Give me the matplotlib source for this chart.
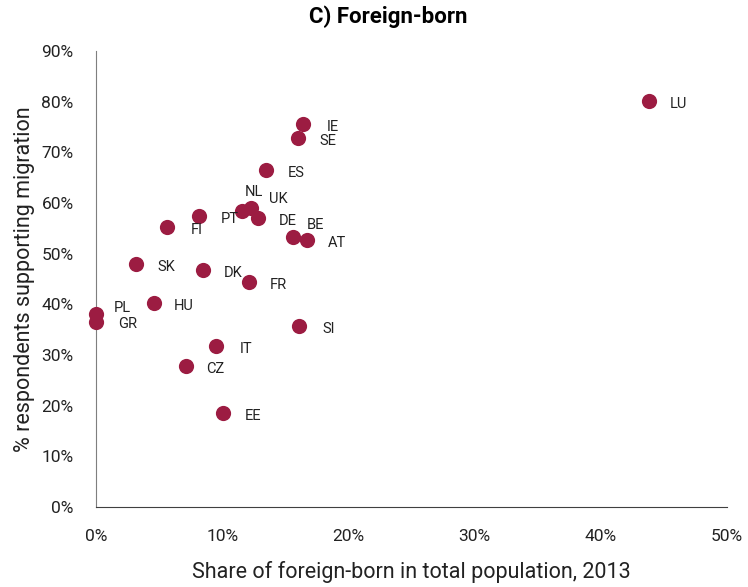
import matplotlib as mpl
mpl.use('Agg')
import matplotlib.pyplot as plt
from matplotlib.ticker import FuncFormatter

countries = ["LU", "IE", "SE", "ES", "NL", "UK", "DE", "PT", "FI", "BE", "AT",
             "SK", "DK", "FR", "HU", "PL", "GR", "SI", "IT", "CZ", "EE"]
foreign_born = [43.8, 16.4, 16.0, 13.5, 11.6, 12.3, 12.8, 8.2, 5.6, 15.6, 16.7,
                3.2, 8.5, 12.1, 4.6, 0.0, 0.0, 16.1, 9.5, 7.1, 10.1]
support = [80.1, 75.6, 72.9, 66.5, 58.4, 59.0, 57.1, 57.5, 55.2, 53.3, 52.7,
           47.9, 46.8, 44.5, 40.3, 38.1, 36.6, 35.8, 31.8, 27.9, 18.5]

# label offsets in pixels (dx right, dy up)
label_offsets = {
    "NL": (12, 19), "UK": (27, 9), "BE": (23, 12), "PL": (26, 6), "GR": (32, -2),
}
default_offset = (30, -3)

color = "#9C1C42"
plt.rcParams['font.family'] = ['Roboto', 'DejaVu Sans']

fig = plt.figure(figsize=(7.48, 5.87), dpi=100)
ax = fig.add_axes([0.1283, 0.1363, 0.972 - 0.1283, 0.913 - 0.1363])

ax.scatter(foreign_born, support, s=120, color=color, zorder=3, clip_on=False,
           linewidths=0)

for c, x, y in zip(countries, foreign_born, support):
    dx, dy = label_offsets.get(c, default_offset)
    ax.annotate(c, (x, y), xytext=(dx * 0.72, dy * 0.72), textcoords='offset points',
                ha='center', va='center', fontsize=10.5, color='#222222')

ax.set_xlim(0, 50)
ax.set_ylim(0, 90)
ax.set_xticks(range(0, 51, 10))
ax.set_yticks(range(0, 91, 10))
ax.xaxis.set_major_formatter(FuncFormatter(lambda v, p: "%d%%" % v))
ax.yaxis.set_major_formatter(FuncFormatter(lambda v, p: "%d%%" % v))
ax.tick_params(axis='both', length=0, labelsize=12.5, colors='#222222')
ax.tick_params(axis='x', pad=16)
ax.tick_params(axis='y', pad=16)

for s in ['top', 'right']:
    ax.spines[s].set_visible(False)
ax.spines['left'].set_color('#7f7f7f')
ax.spines['bottom'].set_color('#404040')

ax.set_xlabel("Share of foreign-born in total population, 2013", fontsize=15.5,
              color='#222222', labelpad=12)
ax.set_ylabel("% respondents supporting migration", fontsize=15.5,
              color='#222222', labelpad=5)
fig.text(388 / 748, 1 - 17 / 587, "C) Foreign-born", fontsize=16, fontweight='bold',
         ha='center', va='center')

plt.savefig("out.png", dpi=100)
